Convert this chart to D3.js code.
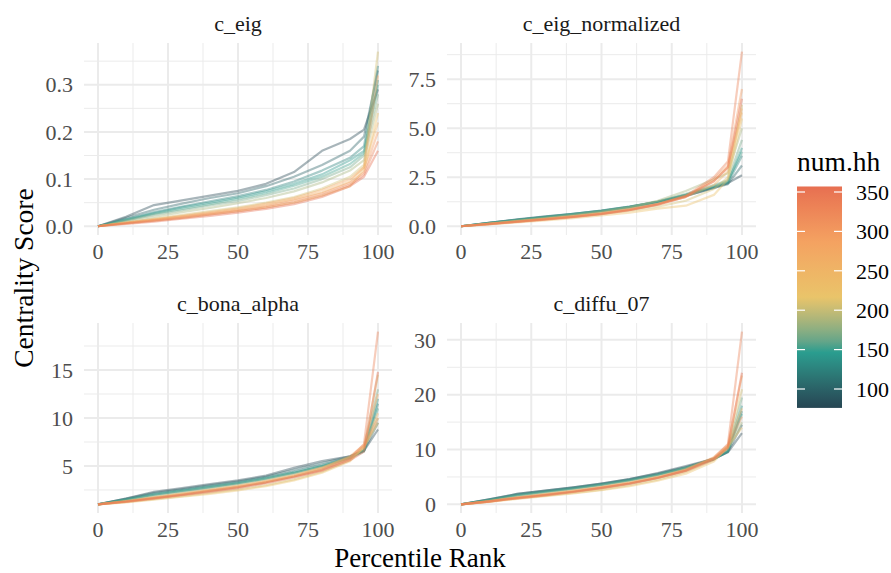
<!DOCTYPE html>
<html>
<head>
<meta charset="utf-8">
<script src="https://cdn.jsdelivr.net/npm/d3@7"></script>
<style>
	body { margin: 0; background: #fff; }
	text { font-family: "Liberation Serif", serif; }
</style>
</head>
<body>
<div id="page-content"></div>
<script>
var pctl = [0, 10, 20, 30, 40, 50, 60, 70, 80, 90, 95, 100];
var numHH = [76, 100, 125, 140, 150, 165, 185, 205, 225, 250, 275, 300, 330, 357];
var facetNames = ["c_eig", "c_eig_normalized", "c_bona_alpha", "c_diffu_07"];

var cEig = [
	[0, 0.020, 0.045, 0.055, 0.065, 0.075, 0.090, 0.115, 0.160, 0.185, 0.205, 0.29],
	[0, 0.018, 0.035, 0.048, 0.060, 0.070, 0.085, 0.105, 0.130, 0.160, 0.190, 0.33],
	[0, 0.015, 0.030, 0.042, 0.053, 0.064, 0.077, 0.095, 0.118, 0.145, 0.170, 0.34],
	[0, 0.014, 0.028, 0.040, 0.050, 0.061, 0.074, 0.090, 0.110, 0.140, 0.160, 0.31],
	[0, 0.013, 0.026, 0.037, 0.047, 0.058, 0.070, 0.086, 0.105, 0.132, 0.155, 0.30],
	[0, 0.012, 0.024, 0.034, 0.044, 0.054, 0.066, 0.080, 0.100, 0.125, 0.150, 0.28],
	[0, 0.010, 0.020, 0.030, 0.039, 0.049, 0.060, 0.074, 0.093, 0.118, 0.140, 0.26],
	[0, 0.008, 0.016, 0.024, 0.032, 0.040, 0.050, 0.062, 0.080, 0.105, 0.130, 0.37],
	[0, 0.006, 0.012, 0.018, 0.025, 0.032, 0.040, 0.050, 0.065, 0.085, 0.120, 0.24],
	[0, 0.007, 0.014, 0.021, 0.028, 0.036, 0.045, 0.057, 0.072, 0.095, 0.125, 0.22],
	[0, 0.008, 0.015, 0.022, 0.030, 0.038, 0.048, 0.060, 0.077, 0.100, 0.125, 0.32],
	[0, 0.007, 0.013, 0.020, 0.027, 0.034, 0.043, 0.055, 0.070, 0.092, 0.115, 0.20],
	[0, 0.006, 0.012, 0.018, 0.025, 0.032, 0.040, 0.051, 0.066, 0.088, 0.110, 0.18],
	[0, 0.005, 0.010, 0.016, 0.022, 0.029, 0.037, 0.047, 0.062, 0.085, 0.105, 0.16]
];

var cEigNorm = [
	[0, 0.17, 0.33, 0.47, 0.60, 0.75, 0.95, 1.20, 1.55, 1.95, 2.20, 2.6],
	[0, 0.18, 0.35, 0.50, 0.64, 0.80, 1.00, 1.25, 1.55, 1.95, 2.15, 3.1],
	[0, 0.17, 0.34, 0.49, 0.64, 0.80, 1.00, 1.25, 1.60, 2.00, 2.20, 3.6],
	[0, 0.17, 0.33, 0.48, 0.63, 0.79, 0.99, 1.25, 1.60, 2.00, 2.25, 4.0],
	[0, 0.16, 0.32, 0.47, 0.62, 0.78, 0.98, 1.25, 1.60, 2.05, 2.30, 3.8],
	[0, 0.16, 0.31, 0.46, 0.61, 0.78, 0.98, 1.27, 1.65, 2.10, 2.35, 4.4],
	[0, 0.14, 0.28, 0.42, 0.57, 0.74, 0.95, 1.30, 1.80, 2.40, 2.70, 5.0],
	[0, 0.12, 0.24, 0.36, 0.49, 0.63, 0.80, 1.00, 1.30, 1.90, 2.50, 6.2],
	[0, 0.10, 0.20, 0.30, 0.42, 0.55, 0.70, 0.90, 1.05, 1.60, 2.40, 5.5],
	[0, 0.13, 0.26, 0.39, 0.52, 0.68, 0.88, 1.15, 1.50, 2.10, 2.80, 5.8],
	[0, 0.12, 0.25, 0.37, 0.50, 0.66, 0.86, 1.13, 1.55, 2.30, 3.00, 6.0],
	[0, 0.11, 0.23, 0.35, 0.48, 0.63, 0.83, 1.10, 1.50, 2.40, 3.10, 7.0],
	[0, 0.12, 0.24, 0.36, 0.49, 0.64, 0.84, 1.12, 1.55, 2.50, 3.30, 8.9],
	[0, 0.11, 0.22, 0.34, 0.47, 0.62, 0.82, 1.10, 1.50, 2.30, 3.00, 6.5]
];

var cBonaAlpha = [
	[1.0, 1.60, 2.30, 2.70, 3.10, 3.50, 4.00, 4.80, 5.50, 6.00, 6.6, 8.8],
	[1.0, 1.60, 2.20, 2.60, 3.00, 3.40, 3.90, 4.60, 5.30, 6.00, 6.6, 9.5],
	[1.0, 1.55, 2.10, 2.50, 2.90, 3.30, 3.80, 4.40, 5.10, 5.90, 6.6, 11.5],
	[1.0, 1.50, 2.00, 2.40, 2.80, 3.20, 3.70, 4.30, 5.00, 5.80, 6.5, 12.0],
	[1.0, 1.50, 2.00, 2.40, 2.80, 3.20, 3.70, 4.30, 5.00, 5.90, 6.6, 11.0],
	[1.0, 1.45, 1.90, 2.30, 2.70, 3.10, 3.60, 4.20, 4.90, 5.90, 6.7, 13.0],
	[1.0, 1.35, 1.70, 2.05, 2.40, 2.80, 3.30, 3.90, 4.70, 5.80, 6.8, 10.0],
	[1.0, 1.25, 1.55, 1.85, 2.20, 2.55, 3.00, 3.60, 4.40, 5.60, 6.9, 14.5],
	[1.0, 1.20, 1.50, 1.80, 2.10, 2.45, 2.90, 3.50, 4.30, 5.50, 7.0, 9.5],
	[1.0, 1.35, 1.75, 2.15, 2.55, 2.95, 3.45, 4.05, 4.80, 5.90, 7.1, 10.5],
	[1.0, 1.30, 1.70, 2.10, 2.50, 2.90, 3.40, 4.00, 4.80, 6.00, 7.2, 12.5],
	[1.0, 1.30, 1.65, 2.00, 2.40, 2.80, 3.30, 3.90, 4.60, 5.70, 7.0, 10.0],
	[1.0, 1.30, 1.65, 2.00, 2.40, 2.80, 3.30, 3.90, 4.60, 5.80, 7.3, 19.0],
	[1.0, 1.25, 1.60, 1.95, 2.30, 2.70, 3.20, 3.80, 4.50, 5.60, 6.5, 14.8]
];

var cDiffu07 = [
	[0, 0.90, 1.90, 2.50, 3.10, 3.80, 4.60, 5.70, 7.0, 8.3, 9.5, 13.0],
	[0, 0.90, 1.90, 2.50, 3.10, 3.80, 4.60, 5.60, 6.8, 8.3, 9.6, 14.5],
	[0, 0.85, 1.80, 2.40, 3.00, 3.70, 4.50, 5.50, 6.7, 8.2, 9.6, 17.0],
	[0, 0.80, 1.70, 2.30, 2.90, 3.60, 4.40, 5.40, 6.6, 8.2, 9.7, 18.0],
	[0, 0.80, 1.65, 2.25, 2.85, 3.55, 4.35, 5.35, 6.6, 8.3, 9.8, 16.5],
	[0, 0.75, 1.60, 2.20, 2.80, 3.50, 4.30, 5.30, 6.6, 8.4, 10.0, 19.5],
	[0, 0.60, 1.30, 1.80, 2.35, 3.00, 3.80, 4.80, 6.2, 8.3, 10.2, 15.0],
	[0, 0.50, 1.10, 1.60, 2.10, 2.70, 3.50, 4.50, 5.9, 8.1, 10.4, 21.0],
	[0, 0.45, 1.00, 1.50, 2.00, 2.60, 3.30, 4.30, 5.6, 7.8, 10.5, 14.0],
	[0, 0.60, 1.30, 1.90, 2.50, 3.20, 4.00, 5.00, 6.3, 8.4, 10.6, 17.5],
	[0, 0.55, 1.25, 1.85, 2.45, 3.15, 3.95, 5.00, 6.4, 8.6, 10.8, 23.5],
	[0, 0.50, 1.15, 1.70, 2.30, 3.00, 3.80, 4.80, 6.1, 8.3, 10.6, 16.0],
	[0, 0.55, 1.20, 1.75, 2.35, 3.05, 3.85, 4.85, 6.2, 8.5, 11.0, 31.5],
	[0, 0.50, 1.10, 1.65, 2.25, 2.95, 3.75, 4.80, 6.1, 8.2, 10.3, 24.0]
];

var xTicks = [0, 25, 50, 75, 100];
var eigTicks = ["0.0", "0.1", "0.2", "0.3"];
var eigNormTicks = ["0.0", "2.5", "5.0", "7.5"];
var bonaTicks = ["5", "10", "15"];
var diffuTicks = ["0", "10", "20", "30"];
var hhTicks = [100, 150, 200, 250, 300, 350];
var palette = ["#264653", "#2a9d8f", "#e9c46a", "#f4a261", "#e76f51"];

var W = 891, H = 573;
var cols = [[84, 392], [447, 756]];
var rows = [[43, 235], [323, 513]];

var panels = [
	{ name: facetNames[0], values: cEig, ticks: eigTicks, col: 0, row: 0 },
	{ name: facetNames[1], values: cEigNorm, ticks: eigNormTicks, col: 1, row: 0 },
	{ name: facetNames[2], values: cBonaAlpha, ticks: bonaTicks, col: 0, row: 1 },
	{ name: facetNames[3], values: cDiffu07, ticks: diffuTicks, col: 1, row: 1 }
];

var hhExtent = d3.extent(numHH);
var color = d3.scaleLinear()
	.domain(d3.range(5).map(function (i) { return hhExtent[0] + i * (hhExtent[1] - hhExtent[0]) / 4; }))
	.range(palette)
	.interpolate(d3.interpolateLab);

var svg = d3.select("#page-content").append("svg")
	.attr("width", W)
	.attr("height", H);

svg.append("rect").attr("width", W).attr("height", H).attr("fill", "#fff");

panels.forEach(function (p) {
	var c = cols[p.col], r = rows[p.row];
	var all = d3.merge(p.values);
	var ext = d3.extent(all), pad = (ext[1] - ext[0]) * 0.05;
	var x = d3.scaleLinear().domain([-5, 105]).range(c);
	var y = d3.scaleLinear().domain([ext[0] - pad, ext[1] + pad]).range([r[1], r[0]]);
	var tickVals = p.ticks.map(Number);
	var step = tickVals[1] - tickVals[0];
	var minor = [];
	for (var v = tickVals[0] - step / 2; v <= ext[1] + pad; v += step) {
		if (v >= ext[0] - pad) minor.push(v);
	}
	var xMinor = [12.5, 37.5, 62.5, 87.5];

	var g = svg.append("g").attr("class", "panel");

	g.selectAll("line.ymin").data(minor).enter().append("line")
		.attr("x1", c[0]).attr("x2", c[1])
		.attr("y1", function (d) { return y(d); }).attr("y2", function (d) { return y(d); })
		.attr("stroke", "#ebebeb").attr("stroke-width", 1);
	g.selectAll("line.xmin").data(xMinor).enter().append("line")
		.attr("y1", r[0]).attr("y2", r[1])
		.attr("x1", function (d) { return x(d); }).attr("x2", function (d) { return x(d); })
		.attr("stroke", "#ebebeb").attr("stroke-width", 1);
	g.selectAll("line.ymaj").data(tickVals).enter().append("line")
		.attr("x1", c[0]).attr("x2", c[1])
		.attr("y1", function (d) { return y(d); }).attr("y2", function (d) { return y(d); })
		.attr("stroke", "#ebebeb").attr("stroke-width", 2);
	g.selectAll("line.xmaj").data(xTicks).enter().append("line")
		.attr("y1", r[0]).attr("y2", r[1])
		.attr("x1", function (d) { return x(d); }).attr("x2", function (d) { return x(d); })
		.attr("stroke", "#ebebeb").attr("stroke-width", 2);

	var line = d3.line()
		.x(function (d, i) { return x(pctl[i]); })
		.y(function (d) { return y(d); });

	g.selectAll("path.village").data(p.values).enter().append("path")
		.attr("class", "village")
		.attr("d", line)
		.attr("fill", "none")
		.attr("stroke", function (d, i) { return color(numHH[i]); })
		.attr("stroke-width", 2.2)
		.attr("stroke-opacity", 0.4)
		.attr("stroke-linejoin", "round");

	g.selectAll("text.ytick").data(p.ticks).enter().append("text")
		.attr("x", c[0] - 11)
		.attr("y", function (d) { return y(+d); })
		.attr("dy", "0.35em")
		.attr("text-anchor", "end")
		.attr("font-size", 22)
		.attr("fill", "#4d4d4d")
		.text(function (d) { return d; });

	g.selectAll("text.xtick").data(xTicks).enter().append("text")
		.attr("x", function (d) { return x(d); })
		.attr("y", r[1] + 24)
		.attr("text-anchor", "middle")
		.attr("font-size", 22)
		.attr("fill", "#4d4d4d")
		.text(function (d) { return d; });

	g.append("text")
		.attr("x", (c[0] + c[1]) / 2)
		.attr("y", r[0] - 12)
		.attr("text-anchor", "middle")
		.attr("font-size", 22)
		.attr("fill", "#1a1a1a")
		.text(p.name);
});

svg.append("text")
	.attr("transform", "translate(33,278) rotate(-90)")
	.attr("text-anchor", "middle")
	.attr("font-size", 27.5)
	.attr("fill", "#000")
	.text("Centrality Score");

svg.append("text")
	.attr("x", 420)
	.attr("y", 567)
	.attr("text-anchor", "middle")
	.attr("font-size", 27)
	.attr("fill", "#000")
	.text("Percentile Rank");

// colour bar legend
var lg = svg.append("g").attr("class", "legend");
var barX = 797, barW = 45;
var ly = d3.scaleLinear().domain([100, 350]).range([389, 192]);
var grad = svg.append("defs").append("linearGradient")
	.attr("id", "hhgrad")
	.attr("x1", 0).attr("x2", 0).attr("y1", 1).attr("y2", 0);
d3.range(0, 1.0001, 0.05).forEach(function (t) {
	grad.append("stop")
		.attr("offset", t)
		.attr("stop-color", color(hhExtent[0] + t * (hhExtent[1] - hhExtent[0])));
});

lg.append("text")
	.attr("x", barX)
	.attr("y", 171)
	.attr("font-size", 27.5)
	.attr("fill", "#000")
	.text("num.hh");

lg.append("rect")
	.attr("x", barX)
	.attr("y", ly(hhExtent[1]))
	.attr("width", barW)
	.attr("height", ly(hhExtent[0]) - ly(hhExtent[1]))
	.attr("fill", "url(#hhgrad)");

lg.selectAll("line.tl").data(hhTicks).enter().append("line")
	.attr("x1", barX).attr("x2", barX + 8)
	.attr("y1", function (d) { return ly(d); }).attr("y2", function (d) { return ly(d); })
	.attr("stroke", "#fff").attr("stroke-width", 1.2);
lg.selectAll("line.tr").data(hhTicks).enter().append("line")
	.attr("x1", barX + barW - 8).attr("x2", barX + barW)
	.attr("y1", function (d) { return ly(d); }).attr("y2", function (d) { return ly(d); })
	.attr("stroke", "#fff").attr("stroke-width", 1.2);

lg.selectAll("text.hh").data(hhTicks).enter().append("text")
	.attr("x", 856)
	.attr("y", function (d) { return ly(d); })
	.attr("dy", "0.35em")
	.attr("font-size", 22)
	.attr("fill", "#000")
	.text(function (d) { return d; });
</script>
</body>
</html>
